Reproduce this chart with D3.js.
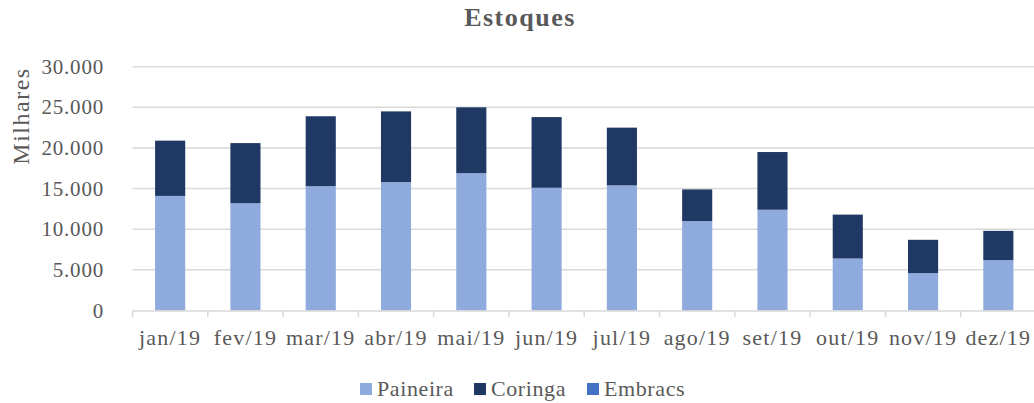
<!DOCTYPE html>
<html>
<head>
<meta charset="utf-8">
<title>Estoques</title>
<script src="https://cdnjs.cloudflare.com/ajax/libs/d3/7.8.5/d3.min.js"></script>
<style>
  html, body { margin: 0; padding: 0; background: #fff; }
  svg text { font-family: "Liberation Serif", "Times New Roman", serif; fill: #595959; }
</style>
</head>
<body>
<div id="chart"></div>
<script>
// chart data
var months = ["jan/19", "fev/19", "mar/19", "abr/19", "mai/19", "jun/19",
              "jul/19", "ago/19", "set/19", "out/19", "nov/19", "dez/19"];
var paineira = [14100, 13200, 15300, 15800, 16900, 15100, 15400, 11000, 12400, 6400, 4600, 6200];
var coringa  = [6800, 7400, 8600, 8700, 8100, 8700, 7100, 3900, 7100, 5400, 4100, 3600];
var embracs  = [0, 0, 0, 0, 0, 0, 0, 0, 0, 0, 0, 0];
var yTicks = [0, 5000, 10000, 15000, 20000, 25000, 30000];

var seriesNames = ["Paineira", "Coringa", "Embracs"];
var colors = { "Paineira": "#8FAADC", "Coringa": "#1F3864", "Embracs": "#4472C4" };

var W = 1034, H = 403;
var plotLeft = 132.5, plotRight = 1036, plotTop = 66.7, plotBottom = 310.5;

var svg = d3.select("#chart").append("svg")
  .attr("width", W).attr("height", H)
  .attr("font-family", "'Liberation Serif', 'Times New Roman', serif");

var rows = months.map(function(m, i) {
  return { month: m, Paineira: paineira[i], Coringa: coringa[i], Embracs: embracs[i] };
});

var x = d3.scaleBand().domain(months).range([plotLeft, plotRight]).paddingInner(0.6).paddingOuter(0.3);
var xb = d3.scaleBand().domain(months).range([plotLeft, plotRight]);
var y = d3.scaleLinear().domain([0, 30000]).range([plotBottom, plotTop]);

var fmt = function(v) { return v === 0 ? "0" : d3.format(",")(v).replace(/,/g, "."); };

// gridlines
svg.append("g").selectAll("line")
  .data(yTicks.slice(1))
  .enter().append("line")
  .attr("x1", plotLeft).attr("x2", plotRight)
  .attr("y1", function(d) { return y(d); })
  .attr("y2", function(d) { return y(d); })
  .attr("stroke", "#d9d9d9").attr("stroke-width", 1.5);

// y labels
svg.append("g").selectAll("text")
  .data(yTicks)
  .enter().append("text")
  .attr("x", 104)
  .attr("y", function(d) { return y(d) + 7; })
  .attr("text-anchor", "end")
  .style("font-size", "21px")
  .style("letter-spacing", "0.8px")
  .text(fmt);

// stacked bars
var stack = d3.stack().keys(seriesNames)(rows);
svg.append("g").selectAll("g")
  .data(stack)
  .enter().append("g")
  .attr("fill", function(d) { return colors[d.key]; })
  .selectAll("rect")
  .data(function(d) { return d; })
  .enter().append("rect")
  .attr("x", function(d) { return x(d.data.month); })
  .attr("width", x.bandwidth())
  .attr("y", function(d) { return y(d[1]); })
  .attr("height", function(d) { return y(d[0]) - y(d[1]); });

// x axis
var xAxis = svg.append("g");
xAxis.append("line")
  .attr("x1", plotLeft).attr("x2", plotRight)
  .attr("y1", plotBottom + 0.5).attr("y2", plotBottom + 0.5)
  .attr("stroke", "#d9d9d9").attr("stroke-width", 1.5);
xAxis.selectAll("line.tick")
  .data(months.concat(["end"]))
  .enter().append("line")
  .attr("class", "tick")
  .attr("x1", function(d, i) { return plotLeft + i * xb.bandwidth(); })
  .attr("x2", function(d, i) { return plotLeft + i * xb.bandwidth(); })
  .attr("y1", plotBottom).attr("y2", plotBottom + 6.5)
  .attr("stroke", "#d9d9d9").attr("stroke-width", 1.5);
xAxis.selectAll("text")
  .data(months)
  .enter().append("text")
  .attr("x", function(d) { return xb(d) + xb.bandwidth() / 2; })
  .attr("y", 345)
  .attr("text-anchor", "middle")
  .style("font-size", "22px")
  .style("letter-spacing", "1.2px")
  .text(function(d) { return d; });

// title
svg.append("text")
  .attr("x", 520).attr("y", 26)
  .attr("text-anchor", "middle")
  .style("font-size", "26px").style("font-weight", "bold")
  .style("letter-spacing", "1.5px")
  .text("Estoques");

// y axis title
svg.append("text")
  .attr("transform", "translate(29,116) rotate(-90)")
  .attr("text-anchor", "middle")
  .style("font-size", "24px")
  .style("letter-spacing", "1.5px")
  .text("Milhares");

// legend
var legendX = [360, 474, 587];
var legend = svg.append("g").selectAll("g")
  .data(seriesNames)
  .enter().append("g")
  .attr("transform", function(d, i) { return "translate(" + legendX[i] + ",0)"; });
legend.append("rect")
  .attr("x", 0).attr("y", 383)
  .attr("width", 12).attr("height", 12)
  .attr("fill", function(d) { return colors[d]; });
legend.append("text")
  .attr("x", 17).attr("y", 396)
  .attr("font-family", "'Liberation Serif', serif")
  .style("font-size", "22px")
  .style("letter-spacing", "0.6px")
  .text(function(d) { return d; });
</script>
</body>
</html>
